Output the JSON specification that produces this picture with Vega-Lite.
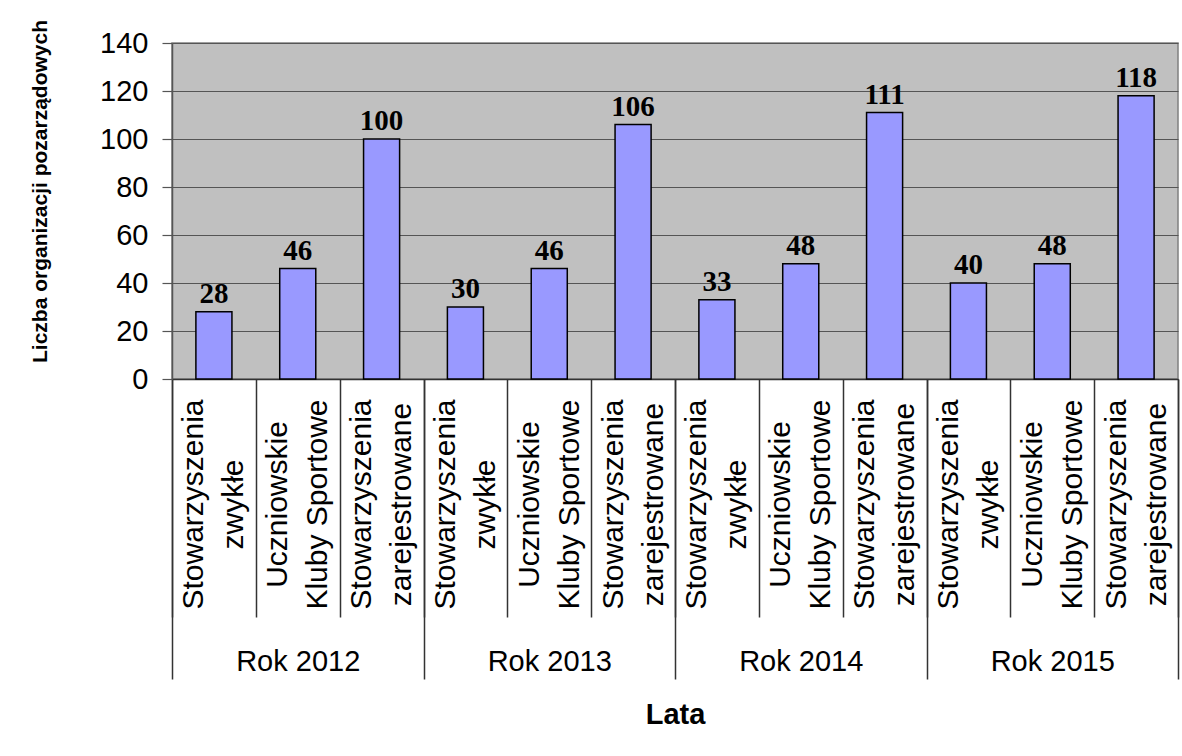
{
  "$schema": "https://vega.github.io/schema/vega-lite/v6.json",
  "width": 1006,
  "height": 336,
  "autosize": {"type": "none"},
  "padding": {"left": 172, "top": 43, "right": 4, "bottom": 377},
  "background": "white",
  "config": {
    "view": {"fill": "#C0C0C0", "stroke": "#808080", "strokeWidth": 1.5},
    "font": "Liberation Sans"
  },
  "data": {
    "values": [
      {"year": "Rok 2012", "cat": "2012|Stowarzyszenia|zwykłe", "value": 28},
      {"year": "Rok 2012", "cat": "2012|Uczniowskie|Kluby Sportowe", "value": 46},
      {"year": "Rok 2012", "cat": "2012|Stowarzyszenia|zarejestrowane", "value": 100},
      {"year": "Rok 2013", "cat": "2013|Stowarzyszenia|zwykłe", "value": 30},
      {"year": "Rok 2013", "cat": "2013|Uczniowskie|Kluby Sportowe", "value": 46},
      {"year": "Rok 2013", "cat": "2013|Stowarzyszenia|zarejestrowane", "value": 106},
      {"year": "Rok 2014", "cat": "2014|Stowarzyszenia|zwykłe", "value": 33},
      {"year": "Rok 2014", "cat": "2014|Uczniowskie|Kluby Sportowe", "value": 48},
      {"year": "Rok 2014", "cat": "2014|Stowarzyszenia|zarejestrowane", "value": 111},
      {"year": "Rok 2015", "cat": "2015|Stowarzyszenia|zwykłe", "value": 40},
      {"year": "Rok 2015", "cat": "2015|Uczniowskie|Kluby Sportowe", "value": 48},
      {"year": "Rok 2015", "cat": "2015|Stowarzyszenia|zarejestrowane", "value": 118}
    ]
  },
  "layer": [
    {
      "layer": [
        {
          "mark": {"type": "bar", "fill": "#9999FF", "stroke": "#000000", "strokeWidth": 1.5, "width": {"band": 0.43}},
          "encoding": {
            "x": {
              "field": "cat", "type": "nominal", "sort": null,
              "scale": {"paddingInner": 0, "paddingOuter": 0},
              "axis": {
                "orient": "bottom", "title": null, "grid": false,
                "tickBand": "extent", "tickSize": 238, "tickColor": "#333333", "tickWidth": 1.5,
                "domainColor": "#333333", "domainWidth": 1.5,
                "labelAngle": -90, "labelAlign": "center", "labelBaseline": "middle",
                "labelPadding": -113, "labelOffset": -20, "labelFontSize": 30, "labelFont": "Liberation Sans",
                "labelColor": "#000000", "labelLineHeight": 40, "labelLimit": 0,
                "labelOverlap": false, "labelBound": false, "labelFlush": false,
                "labelExpr": "slice(split(datum.label, '|'), 1)"
              }
            },
            "y": {
              "field": "value", "type": "quantitative",
              "scale": {"domain": [0, 140], "nice": false},
              "axis": {
                "title": "Liczba organizacji pozarządowych",
                "values": [0, 20, 40, 60, 80, 100, 120, 140],
                "grid": true, "gridColor": "#555555", "gridWidth": 1.2,
                "domainColor": "#555555", "domainWidth": 1.5,
                "tickColor": "#555555", "tickSize": 10, "tickWidth": 1.2,
                "labelFontSize": 29, "labelColor": "#000000", "labelPadding": 14,
                "titleFont": "Liberation Sans",
                "titleFontSize": 21, "titleFontWeight": "bold", "titleColor": "#000000",
                "titleX": -132, "titleY": 148, "titleAngle": -90,
                "titleBaseline": "middle", "titleAlign": "center"
              }
            }
          }
        },
        {
          "mark": {"type": "text", "font": "Liberation Serif", "fontWeight": "bold", "fontSize": 29, "baseline": "alphabetic", "dy": -9, "color": "#000000"},
          "encoding": {
            "x": {"field": "cat", "type": "nominal", "sort": null},
            "y": {"field": "value", "type": "quantitative"},
            "text": {"field": "value", "type": "quantitative"}
          }
        }
      ]
    },
    {
      "mark": {"type": "rule", "opacity": 0},
      "encoding": {
        "x": {
          "field": "year", "type": "nominal", "sort": null,
          "scale": {"paddingInner": 0, "paddingOuter": 0},
          "axis": {
            "orient": "bottom", "title": "Lata", "grid": false, "domain": false,
            "tickBand": "extent", "tickSize": 300, "tickColor": "#333333", "tickWidth": 1.5,
            "labelAngle": 0, "labelAlign": "center", "labelBaseline": "alphabetic",
            "labelPadding": -9, "labelFontSize": 29, "labelColor": "#000000",
            "labelOverlap": false, "labelBound": false, "labelFlush": false, "labelLimit": 0,
            "titleFontSize": 29, "titleFontWeight": "bold", "titleColor": "#000000",
            "titleX": 503, "titleY": 344, "titleBaseline": "alphabetic", "titleAlign": "center"
          }
        }
      }
    }
  ],
  "resolve": {"scale": {"x": "independent"}, "axis": {"x": "independent"}}
}
